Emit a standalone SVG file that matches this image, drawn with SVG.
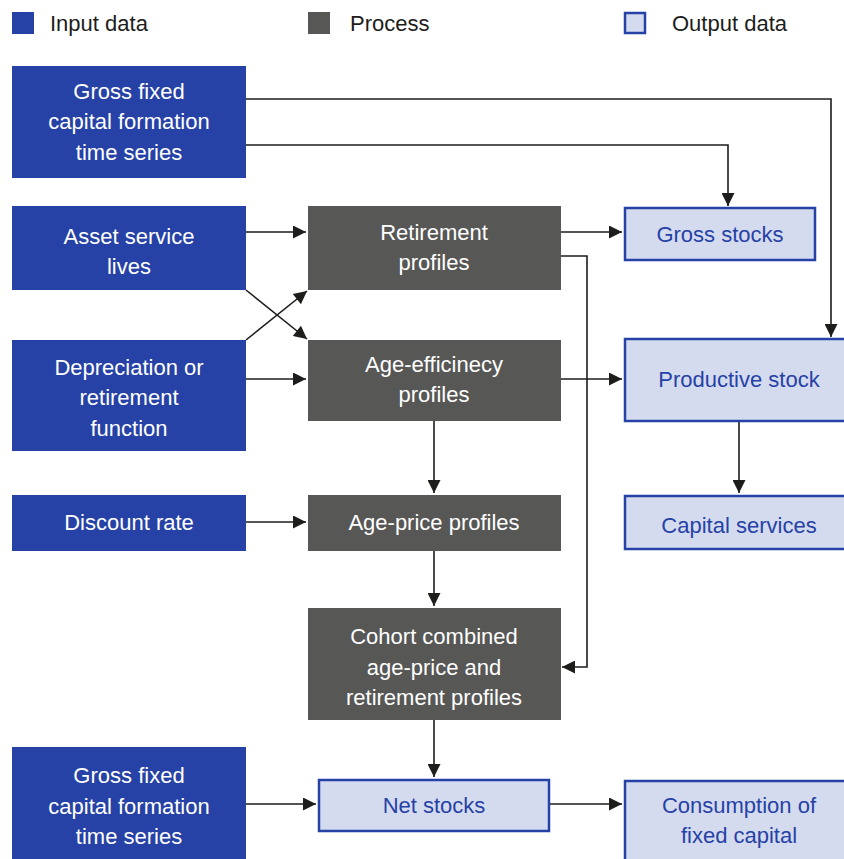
<svg xmlns="http://www.w3.org/2000/svg" width="844" height="859" viewBox="0 0 844 859">
  <style>
    text { font-family: "Liberation Sans", Arial, sans-serif; font-size: 22px; text-anchor: middle; dominant-baseline: central; }
    .in rect { fill: #2642a6; }
    .in text { fill: #ffffff; }
    .pr rect { fill: #575756; }
    .pr text { fill: #ffffff; }
    .out rect { fill: #d5dbee; stroke: #2642a6; stroke-width: 2.5; }
    .out text { fill: #2642a6; }
    .legend text { fill: #1d1d1b; text-anchor: start; }
    .conn path { fill: none; stroke: #1d1d1b; stroke-width: 1.6; marker-end: url(#arrow); }
  </style>
  <defs>
    <marker id="arrow" viewBox="0 0 10 10" refX="10" refY="5" markerUnits="userSpaceOnUse" markerWidth="14" markerHeight="13" orient="auto">
      <path d="M0,0 L10,5 L0,10 Z" fill="#1d1d1b"/>
    </marker>
  </defs>

  <rect width="844" height="859" fill="#ffffff"/>

  <!-- legend -->
  <g class="legend" id="legend">
    <rect x="12" y="12" width="22" height="22" fill="#2642a6"/>
    <text x="50" y="23">Input data</text>
    <rect x="308" y="12" width="22" height="22" fill="#575756"/>
    <text x="350" y="23">Process</text>
    <rect x="625" y="13" width="20" height="20" fill="#d5dbee" stroke="#2642a6" stroke-width="2.5"/>
    <text x="672" y="23">Output data</text>
  </g>

  <!-- connectors -->
  <g class="conn" id="connectors">
    <path d="M246,99 H831 V337"/>
    <path d="M246,145 H728 V206"/>
    <path d="M246,232 H306"/>
    <path d="M561,232 H622"/>
    <path d="M561,256 H587 V667 H562"/>
    <path d="M246,290 L307,339"/>
    <path d="M246,340 L307,291"/>
    <path d="M246,379 H306"/>
    <path d="M561,379 H622"/>
    <path d="M434,421 V493"/>
    <path d="M246,522 H306"/>
    <path d="M434,551 V606"/>
    <path d="M434,720 V777"/>
    <path d="M739,421 V493"/>
    <path d="M246,804 H316"/>
    <path d="M549,804 H622"/>
  </g>

  <!-- input data -->
  <g class="in" id="gfcf-top">
    <rect x="12" y="66" width="234" height="112"/>
    <text x="129" y="91">Gross fixed</text>
    <text x="129" y="121">capital formation</text>
    <text x="129" y="152">time series</text>
  </g>
  <g class="in" id="service-lives">
    <rect x="12" y="206" width="234" height="84"/>
    <text x="129" y="236">Asset service</text>
    <text x="129" y="266">lives</text>
  </g>
  <g class="in" id="depreciation">
    <rect x="12" y="340" width="234" height="111"/>
    <text x="129" y="367">Depreciation or</text>
    <text x="129" y="397">retirement</text>
    <text x="129" y="428">function</text>
  </g>
  <g class="in" id="discount-rate">
    <rect x="12" y="495" width="234" height="56"/>
    <text x="129" y="522">Discount rate</text>
  </g>
  <g class="in" id="gfcf-bottom">
    <rect x="12" y="747" width="234" height="112"/>
    <text x="129" y="775">Gross fixed</text>
    <text x="129" y="806">capital formation</text>
    <text x="129" y="836">time series</text>
  </g>

  <!-- processes -->
  <g class="pr" id="retirement-profiles">
    <rect x="308" y="206" width="253" height="84"/>
    <text x="434" y="232">Retirement</text>
    <text x="434" y="262">profiles</text>
  </g>
  <g class="pr" id="age-efficiency">
    <rect x="308" y="340" width="253" height="81"/>
    <text x="434" y="364">Age-efficinecy</text>
    <text x="434" y="394">profiles</text>
  </g>
  <g class="pr" id="age-price">
    <rect x="308" y="495" width="253" height="56"/>
    <text x="434" y="522">Age-price profiles</text>
  </g>
  <g class="pr" id="cohort">
    <rect x="308" y="608" width="253" height="112"/>
    <text x="434" y="636">Cohort combined</text>
    <text x="434" y="667">age-price and</text>
    <text x="434" y="697">retirement profiles</text>
  </g>

  <!-- outputs -->
  <g class="out" id="gross-stocks">
    <rect x="625" y="208" width="190" height="52"/>
    <text x="720" y="234">Gross stocks</text>
  </g>
  <g class="out" id="productive-stock">
    <rect x="625" y="339" width="225" height="82"/>
    <text x="739" y="379">Productive stock</text>
  </g>
  <g class="out" id="capital-services">
    <rect x="625" y="496" width="225" height="53"/>
    <text x="739" y="525">Capital services</text>
  </g>
  <g class="out" id="net-stocks">
    <rect x="319" y="780" width="230" height="51"/>
    <text x="434" y="805">Net stocks</text>
  </g>
  <g class="out" id="consumption">
    <rect x="625" y="781" width="225" height="85"/>
    <text x="739" y="805">Consumption of</text>
    <text x="739" y="835">fixed capital</text>
  </g>
</svg>
